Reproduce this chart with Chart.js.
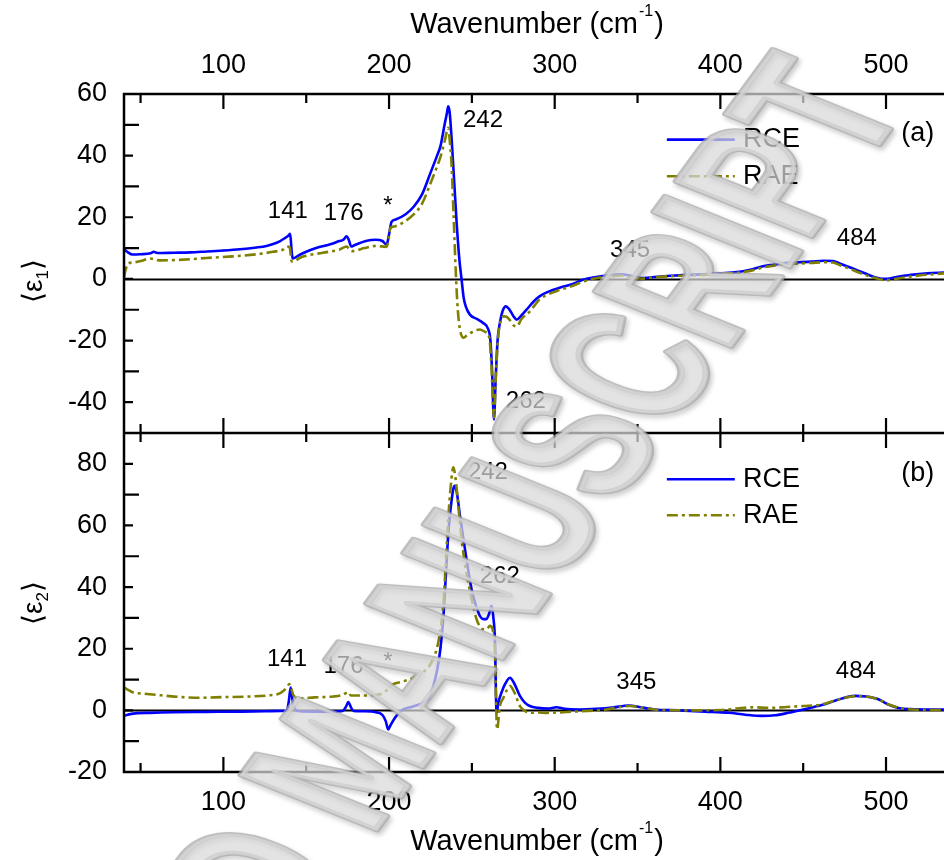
<!DOCTYPE html>
<html>
<head>
<meta charset="utf-8">
<script src="https://cdn.jsdelivr.net/npm/chart.js@4.4.1/dist/chart.umd.min.js"></script>
<style>
  html, body { margin: 0; padding: 0; background: #fff; overflow: hidden; }
  canvas { display: block; }
</style>
</head>
<body>
<canvas id="spectra" width="944" height="860"></canvas>
<script>
const FONT = "'Liberation Sans', Arial, sans-serif";

// (a) real part <eps1>
const wnRceA = [40, 42, 45, 50, 56, 58, 60, 70, 80, 90, 100, 110, 120, 126, 130, 134, 137, 139.5, 140.3, 141.2, 141.8, 143, 145, 150, 156, 165, 170, 172.4, 174.4, 175.6, 177.2, 179, 186, 192, 196, 198.5, 200, 201.5, 204, 210, 215, 220, 225, 229, 231, 233.7, 235, 235.7, 236.6, 237.8, 239.5, 240.8, 242.5, 243.8, 245, 246.3, 248.8, 253, 256.8, 259.9, 261.2, 262.2, 263.3, 264.4, 265.5, 267, 268.5, 270.5, 272.5, 275, 277, 280, 283, 287, 291, 296, 303, 310, 317, 325, 333, 340, 346, 352, 360, 370, 380, 390, 400, 410, 418, 425, 432, 440, 448, 455, 462, 468, 472, 478, 484, 490, 495, 499, 503, 508, 515, 525, 535];
const eps1Rce = [9.5, 8.8, 7.9, 8.0, 8.3, 8.8, 8.4, 8.5, 8.6, 8.9, 9.2, 9.6, 10.2, 10.7, 11.3, 12.2, 13.2, 14.2, 14.6, 9.0, 6.6, 6.8, 7.5, 8.8, 10.0, 11.3, 12.3, 12.7, 13.8, 12.8, 10.5, 10.9, 12.3, 12.7, 12.3, 11.1, 14.5, 18.5, 19.3, 21.0, 23.5, 27.5, 34.4, 40.0, 43.0, 50.6, 54.0, 56.0, 54.0, 45.2, 30.0, 18.2, 6.0, -0.2, -6.0, -8.9, -11.6, -13.0, -14.3, -16.4, -20.0, -30.0, -45.6, -32.0, -20.0, -14.0, -10.5, -8.9, -9.8, -12.0, -13.2, -11.8, -10.0, -7.5, -5.6, -4.2, -2.9, -1.8, -0.3, 0.6, 1.2, 1.5, 1.0, 0.3, 0.6, 1.0, 1.3, 1.5, 1.8, 2.2, 3.0, 4.0, 4.6, 5.2, 5.4, 5.6, 5.9, 5.8, 5.0, 3.8, 2.5, 1.2, 0.3, 0.0, 0.2, 0.8, 1.3, 1.8, 2.1];

const wnRaeA = [40, 41, 42.6, 45, 50, 55.7, 62, 70, 80, 90, 106, 120, 130, 136, 138.5, 140, 141.2, 143, 146, 150, 160, 170, 174.5, 176, 178, 185, 192, 198.4, 199.5, 200.8, 203, 210, 215, 220, 225, 229, 231, 233.5, 235.7, 236.8, 237.8, 239, 240.4, 241.5, 242.8, 245, 247, 250, 254.8, 258, 260.5, 261.8, 263.3, 264.6, 266, 267.5, 269, 271, 273, 275, 277, 280, 285, 291, 296, 303, 310, 317, 325, 335, 340, 346, 352, 360, 370, 380, 390, 400, 410, 418, 425, 432, 440, 448, 455, 462, 468, 472, 478, 484, 490, 496, 500, 504, 510, 520, 535];
const eps1Rae = [0.5, 3.0, 5.0, 5.3, 5.8, 6.6, 6.0, 6.1, 6.4, 6.8, 7.3, 8.0, 8.8, 9.5, 10.5, 10.3, 5.7, 5.8, 6.8, 7.5, 8.5, 9.5, 10.5, 9.5, 9.0, 10.0, 10.7, 10.4, 12.0, 16.5, 17.0, 18.8, 21.0, 24.5, 31.0, 36.5, 39.5, 44.5, 49.0, 44.0, 36.5, 20.0, 0.8, -10.0, -16.4, -19.1, -18.3, -17.3, -16.4, -17.2, -19.0, -28.0, -45.0, -30.0, -18.0, -13.5, -12.1, -12.3, -13.4, -15.0, -15.4, -13.0, -10.5, -6.6, -5.0, -3.6, -2.4, -0.9, 0.2, 0.9, 1.1, 0.6, 0.1, 0.5, 0.9, 1.1, 1.3, 1.6, 2.0, 2.6, 3.6, 4.3, 4.9, 5.0, 5.2, 5.4, 5.3, 4.5, 3.3, 2.0, 0.8, -0.1, -0.4, -0.2, 0.4, 1.1, 1.8];

// (b) imaginary part <eps2>
const wnRceB = [40, 43, 48, 55.7, 70, 90, 110, 125, 135, 138.2, 139.5, 140.6, 141.8, 143.2, 146, 155, 165, 172, 174, 175.4, 177, 178.5, 185, 192, 196, 198, 199.5, 201, 203.6, 206, 208.6, 214, 220.6, 224, 226.7, 229, 231, 232.7, 234.2, 235.7, 237.5, 239.5, 240.8, 242.8, 245.8, 249.8, 252.5, 254.8, 256.8, 258.8, 260.5, 261.9, 263, 263.9, 264.9, 266, 267.9, 270, 273, 275.5, 279, 282, 285, 290, 296, 301, 306, 315, 325, 335, 344.6, 352, 360, 375, 390.8, 405, 415, 425, 433, 441, 450, 461.2, 470, 481.3, 488, 495.4, 501, 507.5, 515, 525, 535];
const eps2Rce = [-1.8, -1.3, -0.9, -0.8, -0.6, -0.5, -0.4, -0.3, -0.2, -0.1, 3.0, 7.4, 3.0, 0.3, -0.3, -0.4, -0.4, -0.2, 1.2, 2.7, 1.0, -0.2, -0.3, -0.6, -1.5, -3.5, -6.2, -4.7, -2.4, -0.8, 0.3, 1.2, 2.5, 4.0, 7.9, 13.0, 20.0, 29.6, 43.0, 56.7, 67.0, 72.9, 71.0, 63.2, 52.4, 39.3, 34.0, 30.7, 29.6, 29.6, 31.5, 33.9, 30.0, 23.0, -0.8, 2.5, 5.8, 8.5, 10.6, 8.8, 4.7, 2.5, 1.4, 0.8, 0.6, 1.0, 0.5, 0.3, 0.5, 0.9, 1.6, 1.0, 0.3, 0.0, -0.4, -0.8, -1.4, -1.8, -1.6, -0.8, 0.3, 1.7, 3.3, 4.7, 4.5, 3.6, 2.0, 0.8, 0.4, 0.3, 0.3];

const wnRaeB = [40, 42, 45.6, 52, 60, 65.8, 75, 85.9, 100, 116, 128, 134, 136.1, 138.5, 139.8, 141, 142.5, 146, 155, 166.3, 172, 175.4, 177, 185, 194.5, 198.5, 202.5, 208, 214.6, 218, 222.7, 225.5, 228.7, 230.7, 232.7, 234.2, 235.7, 237.3, 238.8, 240.2, 241.8, 243.8, 245.8, 247.8, 250.3, 252.8, 254.8, 256.8, 258.8, 260.9, 262.4, 263.4, 263.9, 264.5, 265.2, 266.9, 269, 271, 273, 275.5, 279, 282, 285, 290, 295, 305, 315, 330, 345, 360, 380, 400, 410, 420, 430, 440, 450, 460, 470, 481, 488, 495, 502, 510, 520, 535];
const eps2Rae = [7.4, 6.8, 5.8, 5.4, 5.0, 4.7, 4.3, 4.1, 4.3, 4.5, 4.9, 5.5, 6.3, 7.5, 8.5, 7.0, 4.7, 3.9, 4.2, 4.5, 5.0, 5.9, 4.8, 4.8, 5.2, 6.5, 8.5, 9.3, 10.6, 11.8, 13.3, 15.5, 19.8, 25.0, 33.9, 47.0, 62.0, 73.0, 78.9, 75.0, 66.4, 55.6, 47.5, 41.5, 35.0, 29.6, 27.3, 26.3, 26.3, 27.4, 26.5, 23.5, 20.9, 5.0, -6.2, 1.4, 4.0, 6.5, 7.9, 6.0, 1.4, -0.2, -0.8, -0.7, -0.8, -0.6, -0.3, 0.2, 1.4, 0.3, 0.0, 0.1, 0.6, 1.0, 0.8, 1.1, 1.4, 1.8, 3.3, 4.6, 4.5, 3.6, 1.8, 0.6, 0.2, 0.1];

// axis ticks
const xTicks = [100, 200, 300, 400, 500];
const yTicksA = [-40, -20, 0, 20, 40, 60];
const yTicksB = [-20, 0, 20, 40, 60, 80];
const seriesNames = ['RCE', 'RAE'];

// peak labels, placed in data units of each panel
const notesA = [
  { text: '141', x: 138.9, y: 21.8 }, { text: '176', x: 172.6, y: 21.2 },
  { text: '*', x: 199.3, y: 23.5 }, { text: '242', x: 256.7, y: 51.5 },
  { text: '262', x: 282.6, y: -39.8 }, { text: '345', x: 345.5, y: 9.2 },
  { text: '484', x: 482.4, y: 13.1 }, { text: '(a)', x: 519.2, y: 47.1 }
];
const notesB = [
  { text: '141', x: 138.4, y: 16.4 }, { text: '176', x: 172.5, y: 14.3 },
  { text: '*', x: 199.3, y: 15.6 }, { text: '242', x: 259.7, y: 77.1 },
  { text: '262', x: 266.9, y: 43.6 }, { text: '345', x: 349.3, y: 9.1 },
  { text: '484', x: 481.8, y: 12.7 }, { text: '(b)', x: 519.2, y: 76.7 }
];

const rceStyle = { color: '#0000ff', width: 2.6, dash: [] };
const raeStyle = { color: '#808000', width: 2.6, dash: [11, 4, 3, 4] };

const toPts = (xs, ys) => xs.map((x, i) => ({ x: x, y: ys[i] }));

function series(label, xs, ys, yAxisID, st, order) {
  return {
    label: label,
    data: toPts(xs, ys),
    xAxisID: 'x',
    yAxisID: yAxisID,
    showLine: true,
    pointRadius: 0,
    fill: false,
    order: order,
    cubicInterpolationMode: 'monotone',
    borderColor: st.color,
    borderWidth: st.width,
    borderDash: st.dash,
    borderCapStyle: 'butt',
    borderJoinStyle: 'round'
  };
}

// zero lines under the curves
const zeroLines = {
  id: 'zeroLines',
  beforeDatasetsDraw(chart) {
    const { ctx, chartArea } = chart;
    ctx.save();
    ctx.strokeStyle = '#000';
    ctx.lineWidth = 2;
    ['ya', 'yb'].forEach(id => {
      const y = Math.round(chart.scales[id].getPixelForValue(0)) + 0.5;
      ctx.beginPath();
      ctx.moveTo(chartArea.left, y);
      ctx.lineTo(chartArea.right, y);
      ctx.stroke();
    });
    ctx.restore();
  }
};

function drawWavenumberTitle(ctx, cx, baseline) {
  ctx.font = '29px ' + FONT;
  const w1 = ctx.measureText('Wavenumber (cm').width;
  const w3 = ctx.measureText(')').width;
  ctx.font = '16px ' + FONT;
  const w2 = ctx.measureText('-1').width;
  let x = cx - (w1 + w2 + w3 + 2) / 2;
  ctx.textAlign = 'left';
  ctx.textBaseline = 'alphabetic';
  ctx.font = '29px ' + FONT;
  ctx.fillText('Wavenumber (cm', x, baseline);
  x += w1 + 1;
  ctx.font = '16px ' + FONT;
  ctx.fillText('-1', x, baseline - 17);
  x += w2 + 1;
  ctx.font = '29px ' + FONT;
  ctx.fillText(')', x, baseline);
}

function drawEpsTitle(ctx, bx, cy, sub) {
  ctx.save();
  ctx.translate(bx, cy);
  ctx.rotate(-Math.PI / 2);
  ctx.textAlign = 'left';
  ctx.textBaseline = 'alphabetic';
  ctx.font = '28px ' + FONT;
  const wL = ctx.measureText('\u27E8\u03B5').width;
  const wR = ctx.measureText('\u27E9').width;
  ctx.font = '17px ' + FONT;
  const wS = ctx.measureText(sub).width;
  let x = -(wL + wS + wR) / 2;
  ctx.font = '28px ' + FONT;
  ctx.fillText('\u27E8\u03B5', x, 0);
  x += wL;
  ctx.font = '17px ' + FONT;
  ctx.fillText(sub, x, 6);
  x += wS;
  ctx.font = '28px ' + FONT;
  ctx.fillText('\u27E9', x, 0);
  ctx.restore();
}

// box, inward ticks, labels, legends and titles
const frame = {
  id: 'frame',
  afterDatasetsDraw(chart) {
    const { ctx, chartArea } = chart;
    const xs = chart.scales.x, ya = chart.scales.ya, yb = chart.scales.yb;
    const L = chartArea.left, R = chartArea.right, T = chartArea.top, B = chartArea.bottom;
    const mid = ya.bottom;
    ctx.save();
    ctx.strokeStyle = '#000';
    ctx.lineWidth = 2.5;
    ctx.beginPath();
    ctx.moveTo(R + 2, T); ctx.lineTo(L, T); ctx.lineTo(L, B); ctx.lineTo(R + 2, B);
    ctx.moveTo(L, mid); ctx.lineTo(R + 2, mid);
    ctx.stroke();

    ctx.lineWidth = 2.2;
    ctx.beginPath();
    for (let v = 50; v < xs.max; v += 50) {
      const px = xs.getPixelForValue(v);
      const len = v % 100 === 0 ? 15 : 9;
      ctx.moveTo(px, T); ctx.lineTo(px, T + len);
      ctx.moveTo(px, mid - len); ctx.lineTo(px, mid + len);
      ctx.moveTo(px, B); ctx.lineTo(px, B - len);
    }
    [[ya, -50, 60], [yb, -20, 90]].forEach(([s, lo, hi]) => {
      for (let v = lo + 10; v < hi; v += 10) {
        const py = s.getPixelForValue(v);
        const len = (v - lo) % 20 === 10 ? (s === ya ? 9 : 15) : (s === ya ? 15 : 9);
        ctx.moveTo(L, py); ctx.lineTo(L + len, py);
      }
    });
    ctx.stroke();

    ctx.fillStyle = '#000';
    ctx.textAlign = 'center';
    ctx.textBaseline = 'middle';
    [[notesA, ya], [notesB, yb]].forEach(([notes, s]) => {
      notes.forEach(n => {
        ctx.font = (n.text.charAt(0) === '(' ? '27px ' : '24px ') + FONT;
        ctx.fillText(n.text, xs.getPixelForValue(n.x), s.getPixelForValue(n.y));
      });
    });

    // legends
    const styles = [rceStyle, raeStyle];
    [[ya, [45.2, 33.3]], [yb, [75.0, 63.3]]].forEach(([s, rows]) => {
      rows.forEach((yv, i) => {
        const py = s.getPixelForValue(yv);
        const st = styles[i];
        ctx.save();
        ctx.strokeStyle = st.color;
        ctx.lineWidth = st.width;
        ctx.setLineDash(st.dash);
        ctx.beginPath();
        ctx.moveTo(xs.getPixelForValue(367.7), py);
        ctx.lineTo(xs.getPixelForValue(408.7), py);
        ctx.stroke();
        ctx.restore();
        ctx.textAlign = 'left';
        ctx.font = '27px ' + FONT;
        ctx.fillText(seriesNames[i], xs.getPixelForValue(413.6), py);
      });
    });

    const cx = (L + R) / 2 + 3;
    drawWavenumberTitle(ctx, cx, 33);
    drawWavenumberTitle(ctx, cx, 850);
    drawEpsTitle(ctx, 42, 281, '1');
    drawEpsTitle(ctx, 42, 603, '2');
    ctx.restore();
  }
};

// preprint stamp across the figure
const stamp = {
  id: 'stamp',
  afterDraw(chart) {
    const ctx = chart.ctx;
    const text = 'ACCEPTED MANUSCRIPT';
    ctx.save();
    ctx.setTransform(0.412, -0.562, 1.0, 0.405, 855, 81);
    ctx.font = 'bold 196px ' + FONT;
    ctx.textAlign = 'right';
    ctx.textBaseline = 'middle';
    ctx.lineJoin = 'round';
    ctx.globalAlpha = 0.72;
    ctx.shadowColor = 'rgba(0,0,0,0.3)';
    ctx.shadowBlur = 5;
    ctx.shadowOffsetX = 2;
    ctx.shadowOffsetY = 3;
    ctx.lineWidth = 7;
    ctx.strokeStyle = '#a8a8a8';
    ctx.strokeText(text, 0, 0);
    ctx.shadowColor = 'transparent';
    ctx.lineWidth = 3;
    ctx.strokeStyle = '#d2d2d2';
    ctx.strokeText(text, 0, 0);
    ctx.fillStyle = '#d8d8d8';
    ctx.fillText(text, 0, 0);
    ctx.restore();
  }
};

const tickFont = { family: FONT, size: 27 };

function xAxis(position, height, pad) {
  return {
    type: 'linear', position: position, min: 40, max: 535,
    afterBuildTicks: s => { s.ticks = xTicks.map(v => ({ value: v })); },
    afterFit: s => { s.height = height; },
    grid: { display: false, drawTicks: false },
    border: { display: false },
    ticks: { font: tickFont, color: '#000', padding: pad, maxRotation: 0, autoSkip: false }
  };
}

function yAxis(min, max, ticks, weight) {
  return {
    type: 'linear', position: 'left', stack: 'eps', stackWeight: 1, weight: weight,
    min: min, max: max,
    afterBuildTicks: s => { s.ticks = ticks.map(v => ({ value: v })); },
    afterFit: s => { s.width = 124; },
    grid: { display: false, drawTicks: false },
    border: { display: false },
    ticks: { font: tickFont, color: '#000', padding: 17, autoSkip: false }
  };
}

new Chart(document.getElementById('spectra'), {
  type: 'scatter',
  data: {
    datasets: [
      series('RCE', wnRceA, eps1Rce, 'ya', rceStyle, 1),
      series('RAE', wnRaeA, eps1Rae, 'ya', raeStyle, 0),
      series('RCE', wnRceB, eps2Rce, 'yb', rceStyle, 1),
      series('RAE', wnRaeB, eps2Rae, 'yb', raeStyle, 0)
    ]
  },
  options: {
    responsive: false,
    animation: false,
    events: [],
    layout: { padding: 0 },
    plugins: { legend: { display: false }, tooltip: { enabled: false } },
    scales: {
      x: xAxis('bottom', 88, 14),
      x2: xAxis('top', 94, 12),
      ya: yAxis(-50, 60, yTicksA, 2),
      yb: yAxis(-20, 90, yTicksB, 1)
    }
  },
  plugins: [zeroLines, frame, stamp]
});
</script>
</body>
</html>
